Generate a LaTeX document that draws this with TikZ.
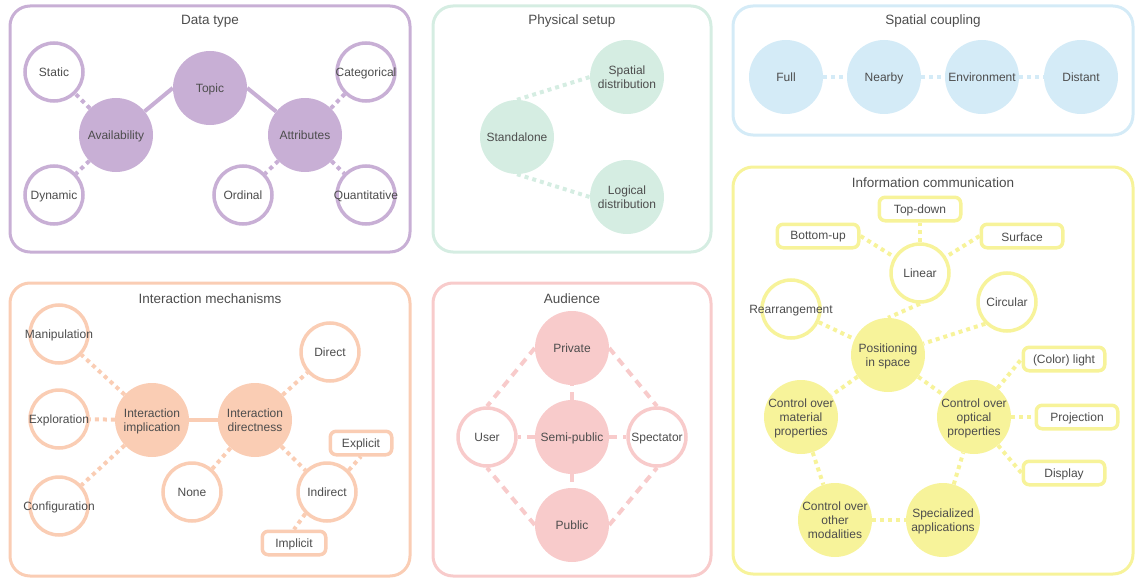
\documentclass[tikz,border=0pt]{standalone}
\usepackage{fontspec}
\setmainfont{Liberation Sans}
\definecolor{tgray}{HTML}{4D4D4D}
\definecolor{cpur}{HTML}{C8AFD5}
\definecolor{cmint}{HTML}{D5EDE2}
\definecolor{cblue}{HTML}{D4EBF7}
\definecolor{cpeach}{HTML}{FACDB4}
\definecolor{cpink}{HTML}{F8CBCB}
\definecolor{cyel}{HTML}{F7F39A}
\newcommand\ct[1]{\raisebox{-2pt}[\height][\depth]{\makebox[0pt]{\begin{tabular}{@{}c@{}}#1\end{tabular}}}}
\newcommand\rt[1]{\raisebox{-1pt}[\height][\depth]{#1}}
\tikzset{
  txt/.style={text=tgray, font=\fontsize{12}{14}\selectfont, inner sep=0pt},
  full/.style={txt, circle, fill=#1, minimum size=74pt},
  ring/.style={txt, circle, draw=#1, line width=3.5pt, fill=white, minimum size=58pt},
  tag/.style={txt, rectangle, rounded corners=6pt, draw=#1, line width=3.5pt, fill=white, minimum width=81.5pt, minimum height=23.5pt},
  dotl/.style={draw=#1, line width=4pt, dash pattern=on 4pt off 4pt},
  dashl/.style={draw=#1, line width=4pt, dash pattern=on 8pt off 6pt},
  solidl/.style={draw=#1, line width=4pt},
  panel/.style={draw=#1, line width=3pt, rounded corners=20pt},
  ptitle/.style={text=tgray, font=\fontsize{13.5}{16}\selectfont, inner sep=0pt},
}
\begin{document}
\begin{tikzpicture}[x=1pt,y=-1pt]
\useasboundingbox (0,0) rectangle (1136,578);
% panels
\draw[panel=cpur] (10,6) rectangle (410,252);
\draw[panel=cmint] (433,6) rectangle (711,252);
\draw[panel=cblue] (733,6) rectangle (1133,135);
\draw[panel=cpeach] (10,283) rectangle (410,576);
\draw[panel=cpink] (433,283) rectangle (711,576);
\draw[panel=cyel] (733,167) rectangle (1133,574);
\node[ptitle] (t1) at (210,21.5) {Data type};
\node[ptitle] (t2) at (572,21.5) {Physical setup};
\node[ptitle] (t3) at (933,21.5) {Spatial coupling};
\node[ptitle] (t4) at (210,298.5) {Interaction mechanisms};
\node[ptitle] (t5) at (572,298.5) {Audience};
\node[ptitle] (t6) at (933,182.5) {Information communication};

% Data type
\node[full=cpur] (topic) at (210,88) {\ct{Topic}};
\node[full=cpur] (avail) at (116,135) {\ct{Availability}};
\node[full=cpur] (attr) at (305,135) {\ct{Attributes}};
\node[ring=cpur] (static) at (54,72) {\ct{Static}};
\node[ring=cpur] (dyn) at (54,195) {\ct{Dynamic}};
\node[ring=cpur] (cat) at (366,72) {\ct{Categorical}};
\node[ring=cpur] (ord) at (243,195) {\ct{Ordinal}};
\node[ring=cpur] (quant) at (366,195) {\ct{Quantitative}};
\draw[solidl=cpur] (topic.west) -- (avail);
\draw[solidl=cpur] (topic.east) -- (attr);
\draw[dotl=cpur] (avail) -- (static);
\draw[dotl=cpur] (avail) -- (dyn);
\draw[dotl=cpur] (attr) -- (cat);
\draw[dotl=cpur] (attr) -- (ord);
\draw[dotl=cpur] (attr) -- (quant);

% Physical setup
\node[full=cmint] (stand) at (517,137) {\ct{Standalone}};
\node[full=cmint] (spat) at (627,77) {\ct{Spatial\\distribution}};
\node[full=cmint] (logi) at (627,197) {\ct{Logical\\distribution}};
\draw[dotl=cmint] (stand.north) -- (spat.west);
\draw[dotl=cmint] (stand.south) -- (logi.west);

% Spatial coupling
\node[full=cblue] (sfull) at (786,77) {\ct{Full}};
\node[full=cblue] (near) at (884,77) {\ct{Nearby}};
\node[full=cblue] (env) at (982,77) {\ct{Environment}};
\node[full=cblue] (dist) at (1081,77) {\ct{Distant}};
\draw[dotl=cblue] (sfull) -- (near);
\draw[dotl=cblue] (near) -- (env);
\draw[dotl=cblue] (env) -- (dist);

% Interaction mechanisms
\node[full=cpeach] (impl) at (152,420) {\ct{Interaction\\implication}};
\node[full=cpeach] (dirn) at (255,420) {\ct{Interaction\\directness}};
\node[ring=cpeach] (manip) at (59,334) {\ct{Manipulation}};
\node[ring=cpeach] (explo) at (59,419) {\ct{Exploration}};
\node[ring=cpeach] (config) at (59,506) {\ct{Configuration}};
\node[ring=cpeach] (direct) at (330,352) {\ct{Direct}};
\node[ring=cpeach] (none) at (192,492) {\ct{None}};
\node[ring=cpeach] (indir) at (327,492) {\ct{Indirect}};
\node[tag=cpeach, minimum width=61.5pt] (expl) at (361,443) {\rt{Explicit}};
\node[tag=cpeach, minimum width=63.5pt] (implc) at (294,543) {\rt{Implicit}};
\draw[solidl=cpeach] (impl) -- (dirn);
\draw[dotl=cpeach] (impl) -- (manip);
\draw[dotl=cpeach] (impl) -- (explo);
\draw[dotl=cpeach] (impl) -- (config);
\draw[dotl=cpeach] (dirn) -- (direct);
\draw[dotl=cpeach] (dirn) -- (none);
\draw[dotl=cpeach] (dirn) -- (indir);
\draw[dotl=cpeach] (indir.north east) -- (expl.south);
\draw[dotl=cpeach] (indir.south west) -- (implc.north);

% Audience
\node[full=cpink] (priv) at (572,348) {\ct{Private}};
\node[full=cpink] (semi) at (572,437) {\ct{Semi-public}};
\node[full=cpink] (pub) at (572,525) {\ct{Public}};
\node[ring=cpink] (user) at (487,437) {\ct{User}};
\node[ring=cpink] (spec) at (657,437) {\ct{Spectator}};
\draw[dashl=cpink] (priv.west) -- (user.north);
\draw[dashl=cpink] (priv.east) -- (spec.north);
\draw[dashl=cpink] (pub.west) -- (user.south);
\draw[dashl=cpink] (pub.east) -- (spec.south);
\draw[dashl=cpink] (semi) -- (priv);
\draw[dashl=cpink] (semi) -- (pub);
\draw[dashl=cpink] (semi) -- (user);
\draw[dashl=cpink] (semi) -- (spec);

% Information communication
\node[tag=cyel] (topd) at (920,209) {\rt{Top-down}};
\node[tag=cyel] (botu) at (818,236) {\rt{Bottom-up}};
\node[tag=cyel] (surf) at (1022,236) {\rt{Surface}};
\node[ring=cyel] (lin) at (920,273) {\ct{Linear}};
\node[ring=cyel] (rear) at (791,309) {\ct{Rearrangement}};
\node[ring=cyel] (circ) at (1007,302) {\ct{Circular}};
\node[full=cyel] (pos) at (888,355) {\ct{Positioning\\in space}};
\node[tag=cyel] (clight) at (1064,359) {\rt{(Color) light}};
\node[tag=cyel] (proj) at (1077,417) {\rt{Projection}};
\node[tag=cyel] (disp) at (1064,473) {\rt{Display}};
\node[full=cyel] (mat) at (801,417) {\ct{Control over\\material\\properties}};
\node[full=cyel] (opt) at (974,417) {\ct{Control over\\optical\\properties}};
\node[full=cyel] (oth) at (835,520) {\ct{Control over\\other\\modalities}};
\node[full=cyel] (spc) at (943,520) {\ct{Specialized\\applications}};
\draw[dotl=cyel] (lin) -- (topd);
\draw[dotl=cyel] (botu.east) -- (lin);
\draw[dotl=cyel] (surf.west) -- (lin);
\draw[dotl=cyel] (lin.south) -- (pos.north);
\draw[dotl=cyel] (rear) -- (pos);
\draw[dotl=cyel] (circ.south west) -- (pos);
\draw[dotl=cyel] (pos) -- (mat);
\draw[dotl=cyel] (pos) -- (opt);
\draw[dotl=cyel] (mat) -- (oth);
\draw[dotl=cyel] (oth) -- (spc);
\draw[dotl=cyel] (spc) -- (opt);
\draw[dotl=cyel] (opt) -- (clight.west);
\draw[dotl=cyel] (opt) -- (proj);
\draw[dotl=cyel] (opt) -- (disp.west);
\end{tikzpicture}
\end{document}
